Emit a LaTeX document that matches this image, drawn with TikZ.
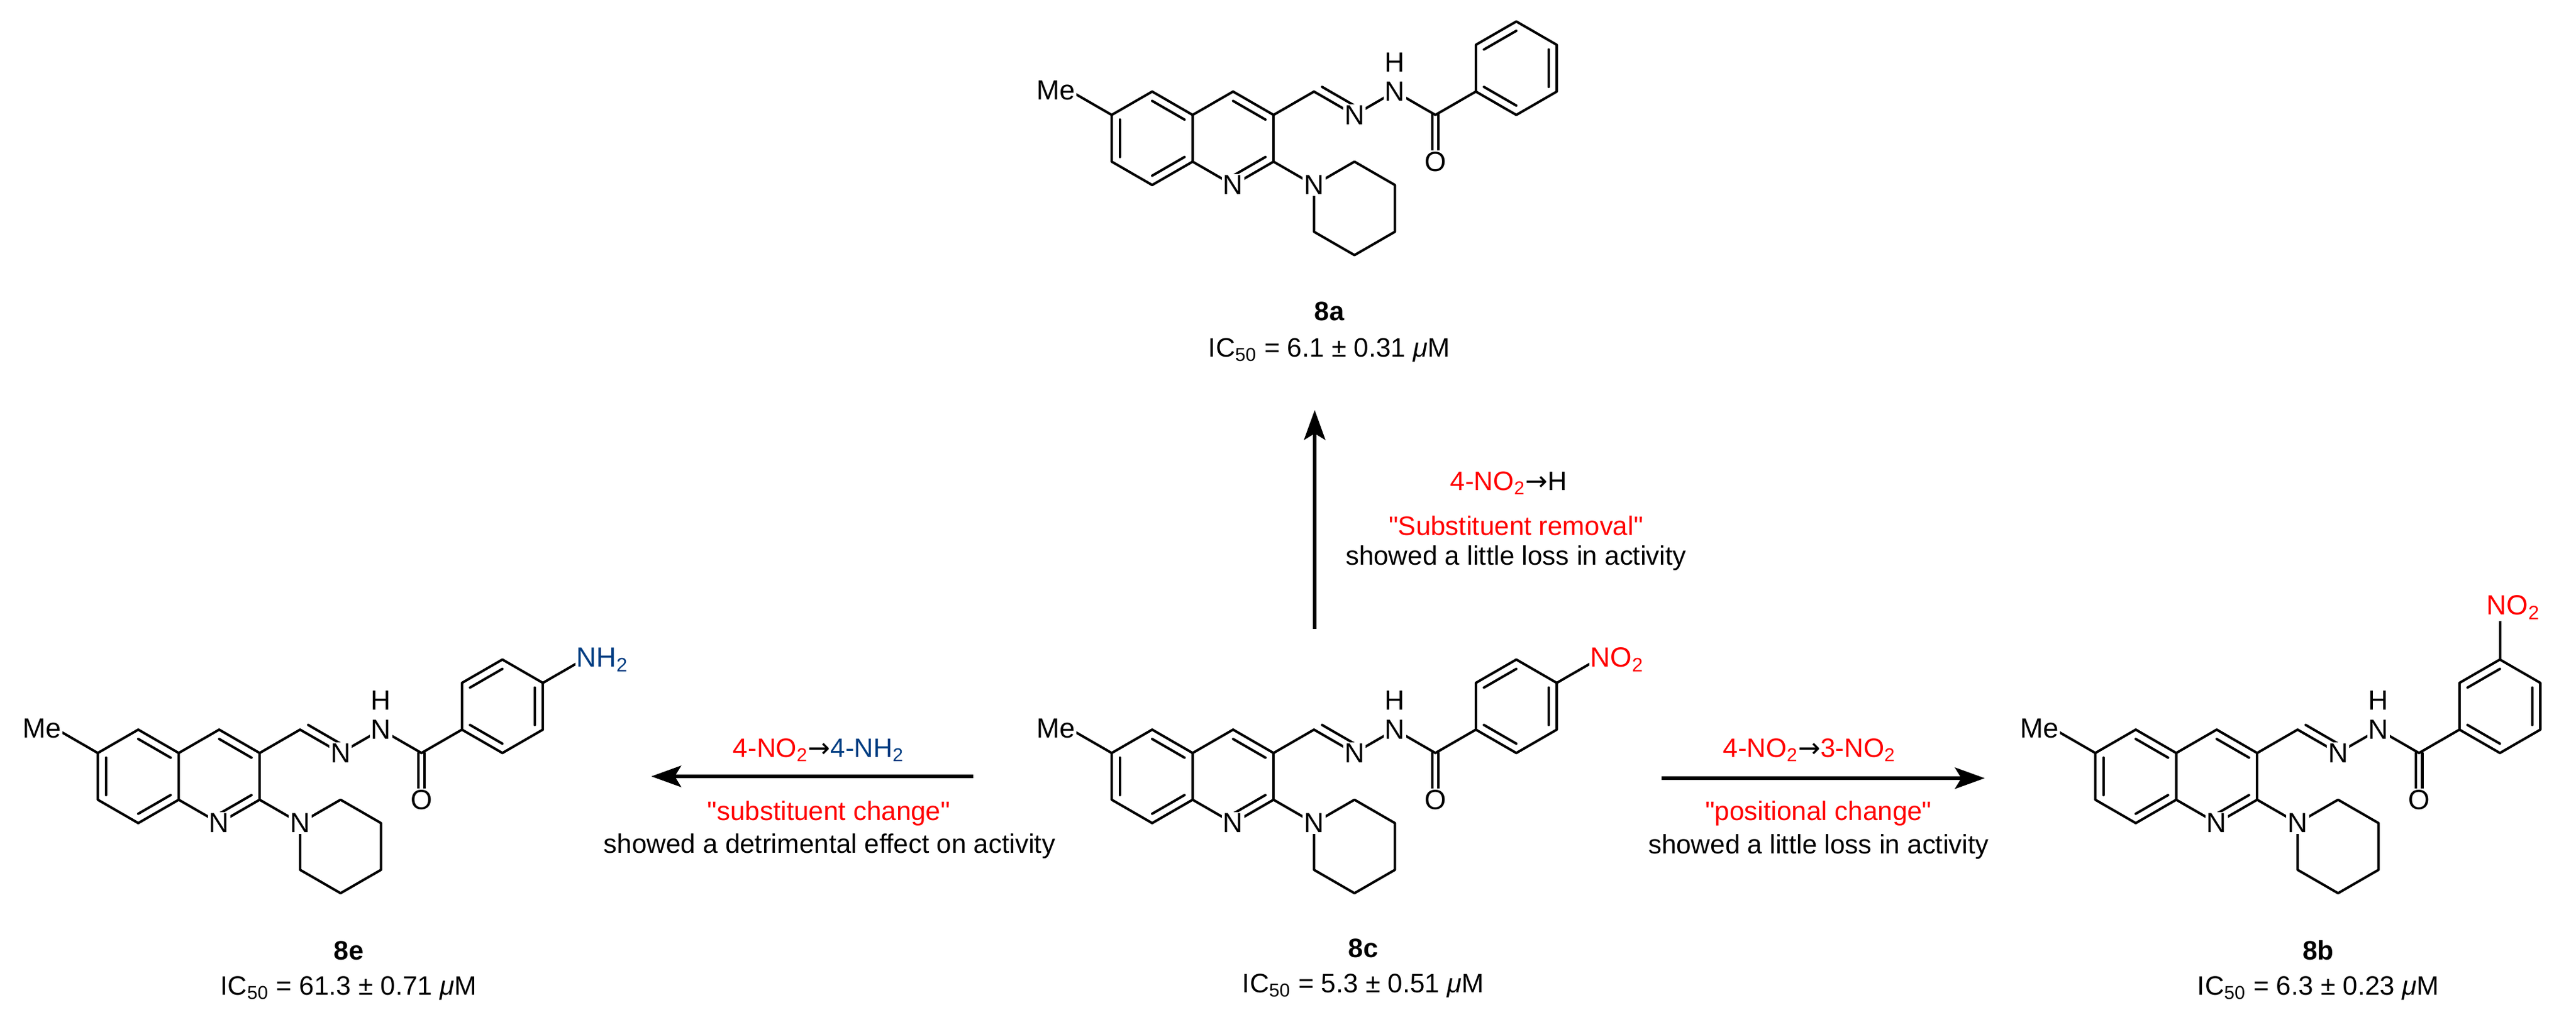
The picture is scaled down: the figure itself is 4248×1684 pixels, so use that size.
\documentclass[tikz,border=0pt]{standalone}
\usepackage{fontspec}
\setmainfont{Liberation Sans}
\newfontfamily\dv{DejaVu Sans}
\usetikzlibrary{calc,arrows.meta}
\definecolor{nred}{RGB}{255,0,0}
\definecolor{nblue}{RGB}{0,61,130}
\tikzset{
  bond/.style={line width=1.15pt,line cap=round,line join=round},
  atom/.style={font=\fontsize{13}{15}\selectfont,fill=white,inner sep=0.6pt},
  txt/.style={font=\fontsize{12.5}{15}\selectfont,inner sep=0pt},
  rxn/.style={line width=1.5pt,-{Stealth[length=14pt,width=10pt,inset=3pt]}}
}
\def\s{0.866}
\newcommand\inb[3]{\draw[bond] ($(#1)!0.2!(#3)$) -- ($(#2)!0.2!(#3)$);}
\newcommand\drawmol[3]{%
\begin{scope}[shift={(#1,#2)},x=0.77cm,y=0.77cm]
 \coordinate (a1) at (0,1); \coordinate (a2) at (\s,.5); \coordinate (a3) at (\s,-.5);
 \coordinate (a4) at (0,-1); \coordinate (a5) at (-\s,-.5); \coordinate (a6) at (-\s,.5);
 \coordinate (ca) at (0,0); \coordinate (cb) at (2*\s,0);
 \coordinate (b1) at (2*\s,1); \coordinate (b2) at (3*\s,.5); \coordinate (b3) at (3*\s,-.5); \coordinate (b4) at (2*\s,-1);
 \coordinate (me) at (-2*\s,1);
 \coordinate (c1) at (4*\s,1); \coordinate (n1) at (5*\s,.5); \coordinate (n2) at (6*\s,1);
 \coordinate (cn) at (4.5*\s+0.433,1.5);
 \coordinate (c2) at (7*\s,.5); \coordinate (o) at (7*\s,-.5);
 \coordinate (p1) at (8*\s,1); \coordinate (p2) at (8*\s,2); \coordinate (p3) at (9*\s,2.5);
 \coordinate (p4) at (10*\s,2); \coordinate (p5) at (10*\s,1); \coordinate (p6) at (9*\s,.5);
 \coordinate (cp) at (9*\s,1.5);
 \coordinate (q1) at (4*\s,-1); \coordinate (q2) at (5*\s,-.5); \coordinate (q3) at (6*\s,-1);
 \coordinate (q4) at (6*\s,-2); \coordinate (q5) at (5*\s,-2.5); \coordinate (q6) at (4*\s,-2);
 \draw[bond] (a1)--(a2)--(a3)--(a4)--(a5)--(a6)--cycle;
 \draw[bond] (a2)--(b1)--(b2)--(b3)--(b4)--(a3);
 \inb{a1}{a2}{ca} \inb{a5}{a6}{ca} \inb{a3}{a4}{ca}
 \inb{b1}{b2}{cb} \inb{b3}{b4}{cb}
 \draw[bond] (a6)--(me);
 \draw[bond] (b2)--(c1)--(n1)--(n2)--(c2)--(p1);
 \inb{c1}{n1}{cn}
 \draw[bond] ($(c2)+(-0.07,0)$)--($(o)+(-0.07,0)$);
 \draw[bond] ($(c2)+(0.07,0)$)--($(o)+(0.07,0)$);
 \draw[bond] (p1)--(p2)--(p3)--(p4)--(p5)--(p6)--cycle;
 \inb{p1}{p6}{cp} \inb{p2}{p3}{cp} \inb{p4}{p5}{cp}
 \draw[bond] (b3)--(q1);
 \draw[bond] (q1)--(q2)--(q3)--(q4)--(q5)--(q6)--cycle;
 #3
 \node[atom,anchor=east] at ($(me)+(0.12,0.02)$) {Me};
 \node[atom] at (b4) {N};
 \node[atom] at (q1) {N};
 \node[atom] at (n1) {N};
 \node[atom] at (n2) {N};
 \node[atom,fill=none] at ($(n2)+(0,0.62)$) {H};
 \node[atom] at (o) {O};
\end{scope}}
\begin{document}
\begin{tikzpicture}[x=0.01cm,y=-0.01cm]
\useasboundingbox (0,0) rectangle (4248,1684);
\fill[white] (0,0) rectangle (4248,1684);
% molecules
\drawmol{1900}{228}{}
\drawmol{1900}{1280}{\coordinate (sx) at (11*\s,2.5); \draw[bond] (p4)--(sx);
  \node[atom,anchor=west,text=nred,xshift=-4pt] at (sx) {NO\textsubscript{2}};}
\drawmol{228}{1280}{\coordinate (sx) at (11*\s,2.5); \draw[bond] (p4)--(sx);
  \node[atom,anchor=west,text=nblue,xshift=-4pt] at (sx) {NH\textsubscript{2}};}
\drawmol{3522}{1280}{\coordinate (sx) at (9*\s,3.5); \draw[bond] (p3)--(sx);
  \node[atom,anchor=south west,text=nred,xshift=-7pt,yshift=-4pt] at (sx) {NO\textsubscript{2}};}
% labels
\node[txt,font=\fontsize{12.5}{15}\selectfont\bfseries] (l8a) at (2192,513) {8a};
\node[txt] (i8a) at (2192,577) {IC\textsubscript{50} = 6.1 ± 0.31 \textit{μ}M};
\node[txt,font=\fontsize{12.5}{15}\selectfont\bfseries] (l8c) at (2248,1563) {8c};
\node[txt] (i8c) at (2248,1625) {IC\textsubscript{50} = 5.3 ± 0.51 \textit{μ}M};
\node[txt,font=\fontsize{12.5}{15}\selectfont\bfseries] (l8e) at (575,1567) {8e};
\node[txt] (i8e) at (575,1629) {IC\textsubscript{50} = 61.3 ± 0.71 \textit{μ}M};
\node[txt,font=\fontsize{12.5}{15}\selectfont\bfseries] (l8b) at (3823,1567) {8b};
\node[txt] (i8b) at (3823,1629) {IC\textsubscript{50} = 6.3 ± 0.23 \textit{μ}M};
% arrows
\coordinate (up0) at (2168,1037); \coordinate (up1) at (2168,676);
\draw[rxn] (up0) -- (up1);
\coordinate (lf0) at (1605,1280); \coordinate (lf1) at (1074,1280);
\draw[rxn] (lf0) -- (lf1);
\coordinate (rt0) at (2740,1283); \coordinate (rt1) at (3273,1283);
\draw[rxn] (rt0) -- (rt1);
% arrow texts
\node[txt,text=nred] (t1) at (2488,797) {4-NO\textsubscript{2}{\dv\color{black}→}\textcolor{black}{H}};
\node[txt,text=nred] (t2) at (2500,867) {\textquotedbl Substituent removal\textquotedbl};
\node[txt] (t3) at (2500,920) {showed a little loss in activity};
\node[txt,text=nred] (t4) at (1350,1237) {4-NO\textsubscript{2}{\dv\color{black}→}\textcolor{nblue}{4-NH\textsubscript{2}}};
\node[txt,text=nred] (t5) at (1367,1341) {\textquotedbl substituent change\textquotedbl};
\node[txt] (t6) at (1368,1395) {showed a detrimental effect on activity};
\node[txt,text=nred] (t7) at (2984,1237) {4-NO\textsubscript{2}{\dv\color{black}→}3-NO\textsubscript{2}};
\node[txt,text=nred] (t8) at (2999,1341) {\textquotedbl positional change\textquotedbl};
\node[txt] (t9) at (2999,1396) {showed a little loss in activity};
\end{tikzpicture}
\end{document}
